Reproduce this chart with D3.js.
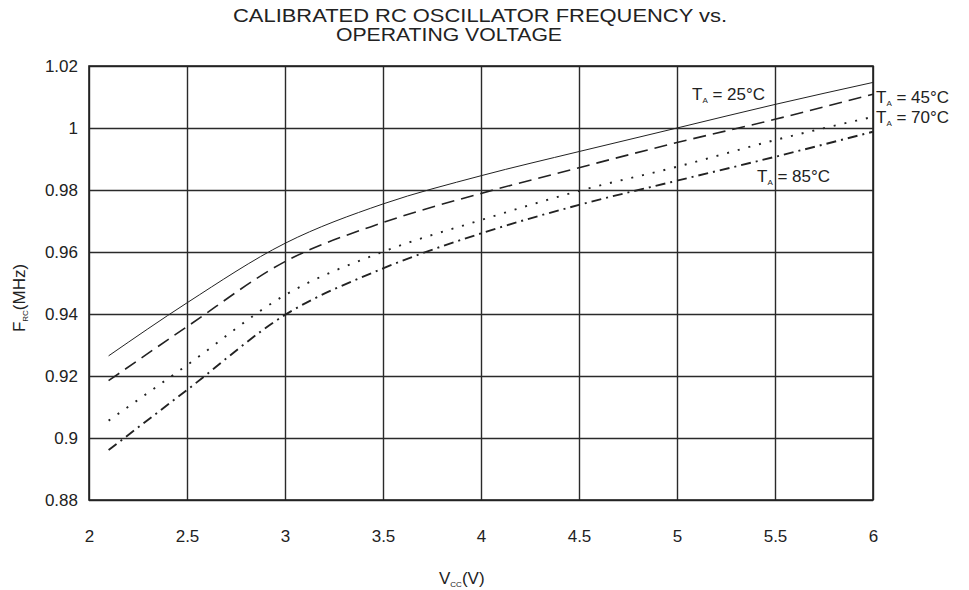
<!DOCTYPE html>
<html>
<head>
<meta charset="utf-8">
<script src="https://cdn.jsdelivr.net/npm/d3@7"></script>
<style>
  body { margin: 0; background: #fff; }
  text { font-family: "Liberation Sans", Arial, sans-serif; fill: #222; }
</style>
</head>
<body>
<svg id="contenedor"></svg>
<script>
// datos: voltaje de operacion (V)
let vcc = [2.1, 2.5, 3, 3.5, 4, 4.5, 5, 5.5, 6];

// frecuencia del oscilador RC (MHz) por temperatura
let f25 = [0.9265, 0.9436, 0.9628, 0.9755, 0.9846, 0.9924, 1.0, 1.0076, 1.0147];
let f45 = [0.9185, 0.9359, 0.9569, 0.9695, 0.9789, 0.9872, 0.9953, 1.0028, 1.0109];
let f70 = [0.9056, 0.9235, 0.9461, 0.9601, 0.9703, 0.9797, 0.9875, 0.9961, 1.0036];
let f85 = [0.8961, 0.9155, 0.9397, 0.9547, 0.966, 0.9752, 0.983, 0.9907, 0.9988];

// etiquetas de los ejes
let xTicks = [2, 2.5, 3, 3.5, 4, 4.5, 5, 5.5, 6];
let yTicks = [0.88, 0.9, 0.92, 0.94, 0.96, 0.98, 1, 1.02];

let temperaturas = ["25", "45", "70", "85"];

// configuraciones de area para graficar
function getConfig() {
  let width = 969;
  let height = 590;
  let margin = { top: 66, bottom: 90, left: 89, right: 96 };
  let bodyWidth = width - margin.left - margin.right;
  let bodyHeight = height - margin.top - margin.bottom;

  let container = d3.select("#contenedor");
  container.attr("width", width).attr("height", height);

  return { width, height, margin, bodyWidth, bodyHeight, container };
} // fin getConfig

// obtener escalas
function getScales(config) {
  let { bodyWidth, bodyHeight } = config;
  let xScale = d3.scaleLinear().domain([2, 6]).range([0, bodyWidth]);
  let yScale = d3.scaleLinear().domain([0.88, 1.02]).range([bodyHeight, 0]);
  return { xScale, yScale };
} // fin getScales

// dibujar grilla y ejes
function dibujarEjes(scales, config) {
  let { xScale, yScale } = scales;
  let { container, margin, bodyWidth, bodyHeight } = config;

  let body = container.append("g")
    .attr("transform", `translate(${margin.left},${margin.top})`);

  // lineas verticales
  body.append("g")
    .call(d3.axisBottom(xScale).tickValues(xTicks).tickSize(bodyHeight).tickFormat(""))
    .call(g => g.select(".domain").remove())
    .call(g => g.selectAll("line").attr("stroke", "#2a2a2a").attr("stroke-width", 1.4));

  // lineas horizontales
  body.append("g")
    .call(d3.axisLeft(yScale).tickValues(yTicks).tickSize(-bodyWidth).tickFormat(""))
    .call(g => g.select(".domain").remove())
    .call(g => g.selectAll("line").attr("stroke", "#2a2a2a").attr("stroke-width", 1.4));

  // marco
  body.append("rect")
    .attr("width", bodyWidth)
    .attr("height", bodyHeight)
    .attr("fill", "none")
    .attr("stroke", "#222")
    .attr("stroke-width", 1.6);

  // etiquetas eje x
  let axisX = d3.axisBottom(xScale).tickValues(xTicks).tickSize(0).tickPadding(30)
    .tickFormat(d3.format(""));
  body.append("g")
    .attr("transform", `translate(0,${bodyHeight})`)
    .call(axisX)
    .call(g => g.select(".domain").remove())
    .call(g => g.selectAll("text").attr("font-size", 17).attr("font-family", null));

  // etiquetas eje y
  let axisY = d3.axisLeft(yScale).tickValues(yTicks).tickSize(0).tickPadding(11)
    .tickFormat(d3.format(""));
  body.append("g")
    .call(axisY)
    .call(g => g.select(".domain").remove())
    .call(g => g.selectAll("text").attr("font-size", 17).attr("font-family", null));

  return body;
} // fin dibujarEjes

// dibujar curvas
function dibujarCurvas(body, scales) {
  let { xScale, yScale } = scales;
  let series = [
    { valores: f25, dash: null, ancho: 1 },
    { valores: f45, dash: "13,7", ancho: 1.6 },
    { valores: f70, dash: "2,9", ancho: 1.9 },
    { valores: f85, dash: "10,5,2,5", ancho: 1.9 },
  ];

  let linea = d3.line()
    .x((d) => xScale(d[0]))
    .y((d) => yScale(d[1]))
    .curve(d3.curveMonotoneX);

  series.forEach((s) => {
    body.append("path")
      .datum(vcc.map((v, i) => [v, s.valores[i]]))
      .attr("d", linea)
      .attr("fill", "none")
      .attr("stroke", "#222")
      .attr("stroke-width", s.ancho)
      .attr("stroke-dasharray", s.dash);
  });
} // fin dibujarCurvas

// etiqueta T_A = xx°C
function etiqueta(container, x, y, temp) {
  let t = container.append("text").attr("x", x).attr("y", y).attr("font-size", 17);
  t.append("tspan").text("T");
  t.append("tspan").attr("font-size", 8).attr("dy", 3).text("A");
  t.append("tspan").attr("dy", -3).text(" = " + temp + "°C");
} // fin etiqueta

// textos del grafico
function dibujarTextos(config) {
  let { container } = config;

  let titulo = container.append("text").attr("font-size", 17.5);
  titulo.append("tspan").attr("x", 233).attr("y", 21.5)
    .attr("textLength", 494).attr("lengthAdjust", "spacingAndGlyphs")
    .text("CALIBRATED RC OSCILLATOR FREQUENCY vs.");
  titulo.append("tspan").attr("x", 336).attr("y", 41)
    .attr("textLength", 226).attr("lengthAdjust", "spacingAndGlyphs")
    .text("OPERATING VOLTAGE");

  etiqueta(container, 692, 100, temperaturas[0]);
  etiqueta(container, 876, 103, temperaturas[1]);
  etiqueta(container, 876, 123, temperaturas[2]);
  etiqueta(container, 757, 182, temperaturas[3]);

  // eje x
  let ex = container.append("text").attr("x", 439).attr("y", 584).attr("font-size", 17);
  ex.append("tspan").text("V");
  ex.append("tspan").attr("font-size", 8).attr("dy", 3).text("CC");
  ex.append("tspan").attr("dy", -3).text("(V)");

  // eje y
  let ey = container.append("text")
    .attr("transform", "translate(25,298) rotate(-90)")
    .attr("text-anchor", "middle").attr("font-size", 17);
  ey.append("tspan").text("F");
  ey.append("tspan").attr("font-size", 8).attr("dy", 3).text("RC");
  ey.append("tspan").attr("dy", -3).text("(MHz)");
} // fin dibujarTextos

function dibujarChart() {
  let config = getConfig();
  let scales = getScales(config);
  let body = dibujarEjes(scales, config);
  dibujarCurvas(body, scales);
  dibujarTextos(config);
} // fin dibujarChart

dibujarChart();
</script>
</body>
</html>
